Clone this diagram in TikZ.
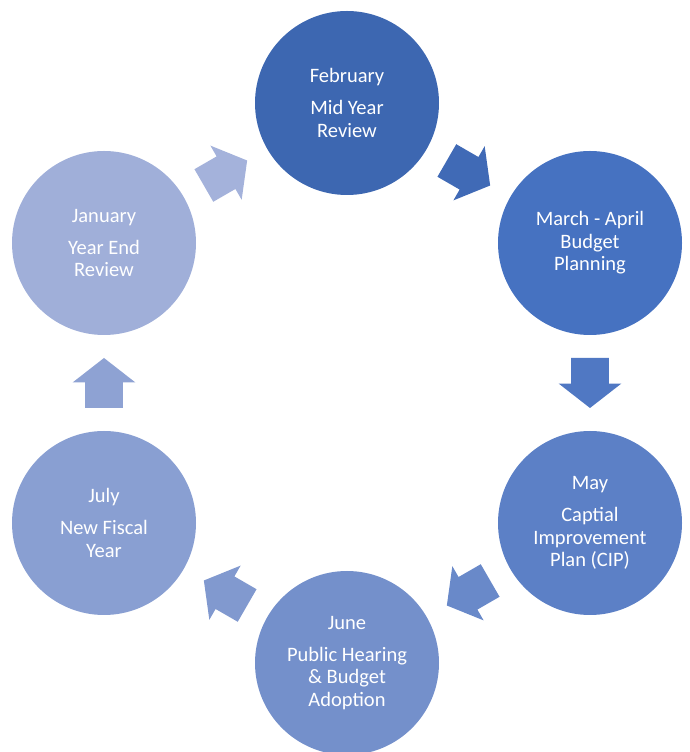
\documentclass[tikz,border=0pt]{standalone}
\usepackage{fontspec}
\setmainfont{Carlito}
\usetikzlibrary{calc}

\definecolor{cfeb}{HTML}{3D67B1}
\definecolor{cmar}{HTML}{4672C1}
\definecolor{cmay}{HTML}{5C80C6}
\definecolor{cjun}{HTML}{7490CB}
\definecolor{cjul}{HTML}{899FD2}
\definecolor{cjan}{HTML}{A0AFD9}

\tikzset{
every picture/.style={
line width=1pt
}}

% block arrow half way between two phases
\newcommand{\cyclearrow}[4]{%
\fill[#4, shift={($(#1)!0.5!(#2)$)}, rotate=#3]
 (-25,-18.8) -- (0.6,-18.8) -- (0.6,-31.3) -- (25,0)
 -- (0.6,31.3) -- (0.6,18.8) -- (-25,18.8) -- cycle;}

\begin{document}
\begin{tikzpicture}[x=1pt, y=1pt,
phase/.style = {circle, minimum size=184, inner sep=0, text=white, align=center,
 font=\fontsize{20.5}{22.5}\selectfont}]
\useasboundingbox (0,0) rectangle (689,752);
\clip (0,0) rectangle (689,752);
\node[phase, fill=cfeb] at (347,649) (feb) {February\\[9.5pt]Mid Year\\Review};
\node[phase, fill=cmar] at (590,509) (mar) {March - April\\Budget\\Planning};
\node[phase, fill=cmay] at (590,229) (may) {May\\[9.5pt]Captial\\Improvement\\Plan (CIP)};
\node[phase, fill=cjun] at (347,89) (jun) {June\\[9.5pt]Public Hearing\\\& Budget\\Adoption};
\node[phase, fill=cjul] at (104,229) (jul) {July\\[9.5pt]New Fiscal\\Year};
\node[phase, fill=cjan] at (104,509) (jan) {January\\[9.5pt]Year End\\Review};
% \draw (jan) -- (feb);
\cyclearrow{jan}{feb}{30}{cjan!96!white}
\cyclearrow{feb}{mar}{-30}{cfeb!70!cmar}
\cyclearrow{mar}{may}{-90}{cmar!55!cmay}
\cyclearrow{may}{jun}{-150}{cmay!45!cjun}
\cyclearrow{jun}{jul}{150}{cjun!40!cjul}
\cyclearrow{jul}{jan}{90}{cjul!80!cjan}

\end{tikzpicture}
\end{document}
